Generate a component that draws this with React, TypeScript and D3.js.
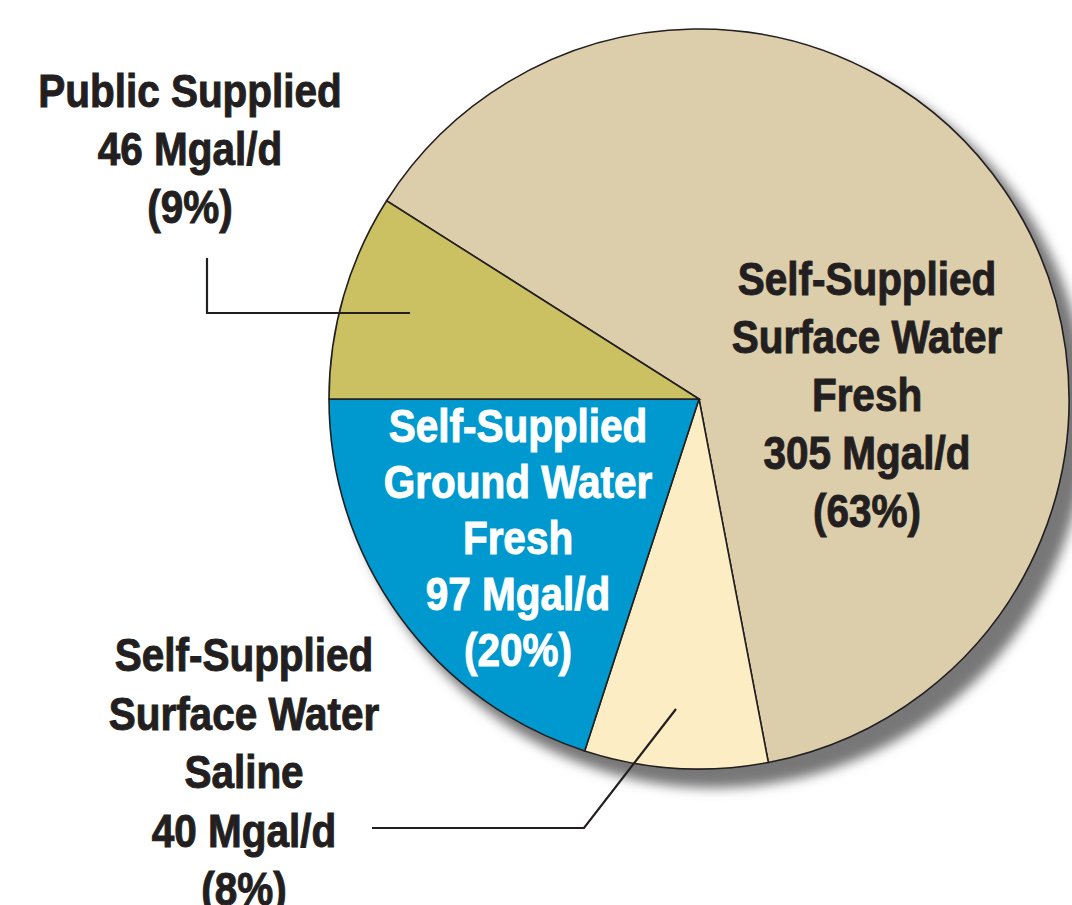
import React from "react";
import * as d3 from "d3";

const categories = [
  "Self-Supplied Surface Water Fresh",
  "Self-Supplied Surface Water Saline",
  "Self-Supplied Ground Water Fresh",
  "Public Supplied",
];
const values = [305, 40, 97, 46];
const percentValues = [63, 8, 20, 9];
const labelLines = [
  ["Self-Supplied", "Surface Water", "Fresh"],
  ["Self-Supplied", "Surface Water", "Saline"],
  ["Self-Supplied", "Ground Water", "Fresh"],
  ["Public Supplied"],
];
const colors = ["#dccdab", "#fdedc4", "#0099cf", "#cbc062"];

const W = 1072;
const H = 905;
const cx = 699;
const cy = 399;
const R = 370;
const FONT = "'Liberation Sans', Arial, sans-serif";
const INK = "#231f20";
const SX = 0.88;

// label layout: center x, first baseline, line step, text colour
const labelLayout = [
  { x: 867, y: 295, step: 58, fill: INK },
  { x: 244, y: 671, step: 58.5, fill: INK },
  { x: 518, y: 442, step: 56, fill: "#ffffff" },
  { x: 190, y: 107, step: 58, fill: INK },
];

export default function App() {
  const total = d3.sum(percentValues);
  const publicIdx = 3;
  const start = -Math.PI / 2 + (2 * Math.PI * percentValues[publicIdx]) / total;
  const pie = d3
    .pie<number>()
    .sort(null)
    .value((d) => d)
    .startAngle(start)
    .endAngle(start + 2 * Math.PI);
  const arcs = pie(percentValues);
  const arc = d3.arc<d3.PieArcDatum<number>>().innerRadius(0).outerRadius(R);

  return (
    <svg
      width={W}
      height={H}
      viewBox={`0 0 ${W} ${H}`}
      style={{ position: "absolute", left: 0, top: 0, display: "block", background: "#fff" }}
    >
      <defs>
        <filter id="shadow" x="-20%" y="-20%" width="140%" height="140%">
          <feGaussianBlur stdDeviation="6" />
        </filter>
      </defs>
      <circle cx={cx + 15} cy={cy + 16} r={R + 3} fill="#787778" filter="url(#shadow)" />
      <g transform={`translate(${cx},${cy})`}>
        {arcs.map((a, i) => (
          <path
            key={categories[i]}
            d={arc(a) || ""}
            fill={colors[i]}
            stroke={INK}
            strokeWidth={1.6}
            strokeLinejoin="miter"
          />
        ))}
      </g>
      {/* leader lines */}
      <polyline
        points="207,258 207,313 410,313"
        fill="none"
        stroke={INK}
        strokeWidth={2.2}
      />
      <polyline
        points="676,709 584,828 372,828"
        fill="none"
        stroke={INK}
        strokeWidth={2.2}
      />
      {labelLayout.map((l, i) => {
        const lines = [
          ...labelLines[i],
          `${values[i]} Mgal/d`,
          `(${percentValues[i]}%)`,
        ];
        return (
          <g key={categories[i]}>
            {lines.map((t, j) => (
              <text
                key={j}
                transform={`translate(${l.x},${l.y + j * l.step}) scale(${SX},1)`}
                fill={l.fill}
                stroke={l.fill}
                strokeWidth={1}
                fontFamily={FONT}
                fontWeight="bold"
                fontSize={46}
                textAnchor="middle"
              >
                {t}
              </text>
            ))}
          </g>
        );
      })}
    </svg>
  );
}
